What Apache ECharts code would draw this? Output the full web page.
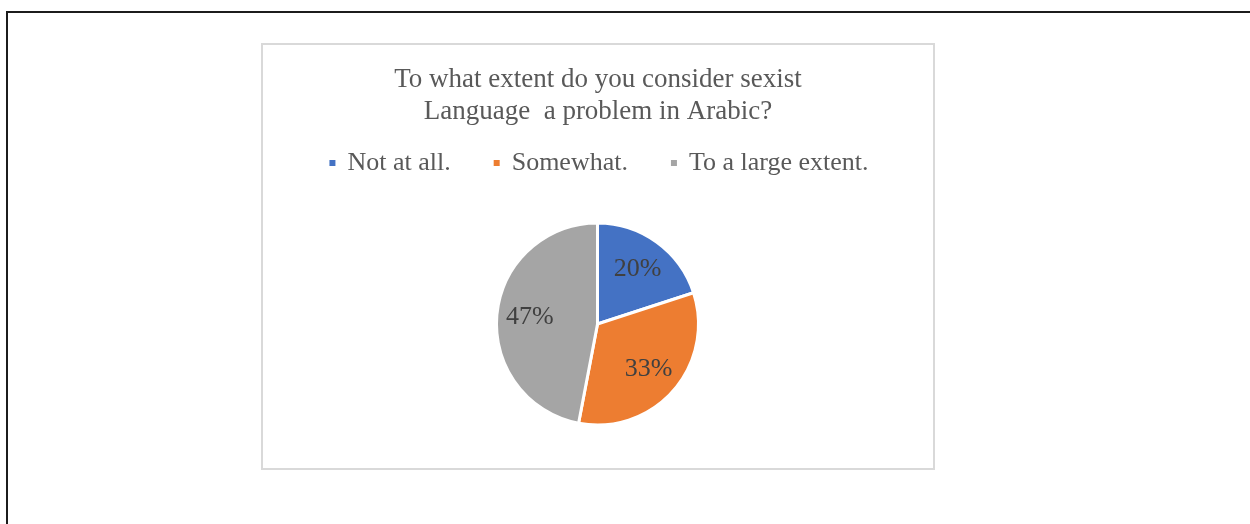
<!DOCTYPE html>
<html>
<head>
<meta charset="utf-8">
<script src="https://cdn.jsdelivr.net/npm/echarts@6/dist/echarts.min.js"></script>
<style>
  html, body { margin: 0; padding: 0; background: #ffffff; width: 1250px; height: 524px; overflow: hidden; }
  #frame { position: absolute; left: 6px; top: 11px; width: 1300px; height: 600px;
           border-top: 2px solid #1c1c1c; border-left: 2px solid #1c1c1c; }
  #chart { position: absolute; left: 261px; top: 43px; width: 674px; height: 427px;
           box-sizing: border-box; border: 2px solid #d9d9d9; background: #ffffff; }
</style>
</head>
<body>
<div id="frame"></div>
<div id="chart"></div>
<script>
// Survey answers and their shares (percent)
const categories = ['Not at all.', 'Somewhat.', 'To a large extent.'];
const shares = [20, 33, 47];
const colors = ['#4472C4', '#ED7D31', '#A5A5A5'];
const titleText = 'To what extent do you consider sexist\nLanguage  a problem in Arabic?';

const pieData = categories.map((name, i) => ({
  name: name,
  value: shares[i],
  itemStyle: { color: colors[i] }
}));

const chart = echarts.init(document.getElementById('chart'), null, { renderer: 'canvas' });
const serif = '"Liberation Serif", "Times New Roman", serif';

chart.setOption({
  animation: false,
  title: {
    text: titleText,
    left: 'center',
    top: 14,
    textStyle: {
      fontFamily: serif,
      fontWeight: 'normal',
      fontSize: 27,
      lineHeight: 32,
      color: '#595959'
    }
  },
  legend: {
    top: 100,
    left: 'center',
    icon: 'rect',
    itemWidth: 8,
    itemHeight: 8,
    itemGap: 41,
    selectedMode: false,
    data: categories,
    textStyle: {
      fontFamily: serif,
      fontSize: 26,
      color: '#595959',
      padding: [0, 0, 0, 6]
    }
  },
  series: [
    {
      // slices
      type: 'pie',
      center: [334.5, 279],
      radius: [0, 101],
      startAngle: 90,
      clockwise: true,
      silent: true,
      data: pieData,
      itemStyle: { borderColor: '#ffffff', borderWidth: 3 },
      label: { show: false },
      labelLine: { show: false }
    },
    {
      // percentage labels, placed a bit further out than the slice midpoint
      type: 'pie',
      center: [334.5, 279],
      radius: [0, 130],
      startAngle: 90,
      clockwise: true,
      silent: true,
      data: pieData.map(d => ({ name: d.name, value: d.value })),
      itemStyle: { color: 'rgba(0,0,0,0)', borderWidth: 0 },
      label: {
        show: true,
        position: 'inside',
        formatter: p => p.value + '%',
        fontFamily: serif,
        fontSize: 26,
        color: '#404040'
      },
      labelLine: { show: false }
    }
  ]
});
</script>
</body>
</html>
